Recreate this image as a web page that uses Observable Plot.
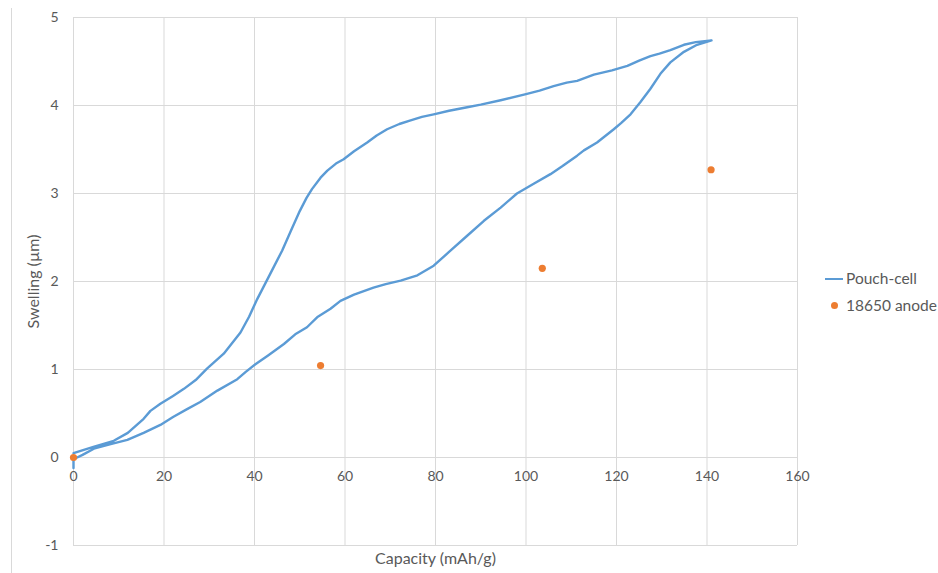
<!DOCTYPE html>
<html>
<head>
<meta charset="utf-8">
<script src="https://cdn.jsdelivr.net/npm/d3@7"></script>
<script src="https://cdn.jsdelivr.net/npm/@observablehq/plot@0.6"></script>
<style>
  body { margin: 0; background: #fff; font-family: Lato, "Open Sans", sans-serif; }
  #wrap { position: relative; width: 938px; height: 573px; overflow: hidden; }
  #border { position: absolute; left: 11px; top: 8px; width: 0; height: 565px; border-left: 1px solid #d9d9d9; }
  #legend { position: absolute; left: 825px; top: 265px; font-size: 15.5px; color: #595959; line-height: 27px; }
  #legend .row { display: flex; align-items: center; }
  #legend .line { width: 18px; height: 0; border-top: 2px solid #5B9BD5; margin-right: 3px; }
  #legend .dot { width: 7px; height: 7px; border-radius: 50%; background: #ED7D31; margin: 0 8px 0 6px; }
</style>
</head>
<body>
<div id="wrap">
  <div id="border"></div>
  <div id="chart"></div>
  <div id="legend">
    <div class="row"><span class="line"></span><span>Pouch-cell</span></div>
    <div class="row"><span class="dot"></span><span>18650 anode</span></div>
  </div>
</div>
<script>
// Pouch-cell: first branch (upper)
const upperCapacity = [0, 4.4, 8.9, 12, 15.5, 17, 19.2, 22, 24.4, 27, 29.5, 33.2, 36.9, 38.8, 40.6, 43.5, 46.1, 48, 50, 51.5, 52.7, 54.6, 56.1, 58, 59.7, 62, 64.9, 67, 69.3, 72, 74.5, 77, 79.6, 83, 87, 90, 94.4, 100, 103, 106.1, 109, 111.3, 115, 119, 122.4, 125, 127.5, 129.5, 131.9, 134.9, 137.5, 141];
const upperSwelling = [0.05, 0.12, 0.19, 0.28, 0.44, 0.53, 0.61, 0.7, 0.78, 0.88, 1.01, 1.18, 1.42, 1.6, 1.8, 2.09, 2.35, 2.57, 2.8, 2.95, 3.05, 3.18, 3.26, 3.34, 3.39, 3.48, 3.58, 3.66, 3.73, 3.79, 3.83, 3.87, 3.9, 3.94, 3.98, 4.01, 4.06, 4.13, 4.17, 4.22, 4.26, 4.28, 4.35, 4.4, 4.45, 4.51, 4.56, 4.59, 4.63, 4.69, 4.72, 4.74];
// Pouch-cell: return branch (lower)
const lowerCapacity = [141, 137.8, 134.9, 131.9, 129.7, 127.5, 125.3, 123.1, 121, 119.4, 115.7, 112.8, 111.3, 108, 105.4, 101.7, 98, 94.4, 90.7, 87, 83.3, 79.6, 76, 72.3, 69, 66.3, 62, 59, 56.8, 54, 51.6, 49, 46.5, 43, 40.2, 38, 36.2, 31.8, 28, 25.1, 22, 19.2, 15.5, 11.9, 8, 4.5, 2, 0, 0];
const lowerSwelling = [4.74, 4.69, 4.61, 4.49, 4.36, 4.19, 4.04, 3.9, 3.8, 3.73, 3.58, 3.49, 3.43, 3.31, 3.22, 3.11, 3.0, 2.84, 2.69, 2.52, 2.35, 2.18, 2.07, 2.01, 1.97, 1.93, 1.85, 1.78, 1.69, 1.6, 1.48, 1.4, 1.29, 1.16, 1.06, 0.97, 0.89, 0.76, 0.63, 0.55, 0.46, 0.37, 0.28, 0.2, 0.15, 0.1, 0.03, -0.02, -0.12];
// 18650 anode points
const anodeCapacity = [0, 54.6, 103.6, 140.9];
const anodeSwelling = [0, 1.045, 2.15, 3.27];
// ticks
const xTicks = [0, 20, 40, 60, 80, 100, 120, 140, 160];
const yTicks = [-1, 0, 1, 2, 3, 4, 5];

const pouch = [
  ...upperCapacity.map((c, i) => ({capacity: c, swelling: upperSwelling[i]})),
  ...lowerCapacity.map((c, i) => ({capacity: c, swelling: lowerSwelling[i]}))
];
const anode = anodeCapacity.map((c, i) => ({capacity: c, swelling: anodeSwelling[i]}));

const grid = "#d9d9d9";
const textColor = "#595959";

const chart = Plot.plot({
  width: 938,
  height: 573,
  marginLeft: 73,
  marginRight: 141,
  marginTop: 17,
  marginBottom: 28,
  style: {fontFamily: "Lato, 'Open Sans', sans-serif", fontSize: "14px", color: textColor, background: "transparent"},
  x: {domain: [0, 160], axis: null},
  y: {domain: [-1, 5], axis: null},
  marks: [
    Plot.ruleX(xTicks, {stroke: grid, strokeWidth: 1, strokeOpacity: 1}),
    Plot.ruleY(yTicks, {stroke: grid, strokeWidth: 1, strokeOpacity: 1}),
    Plot.text(yTicks, {x: 0, y: d => d, dx: -15, textAnchor: "end", text: d => String(d), fill: textColor, fontSize: 14}),
    Plot.text(xTicks, {x: d => d, y: 0, dy: 19, text: d => String(d), fill: textColor, fontSize: 14}),
    Plot.text(["Capacity (mAh/g)"], {frameAnchor: "bottom", dy: 18, textAnchor: "middle", text: d => d, fill: textColor, fontSize: 16}),
    Plot.text(["Swelling (µm)"], {frameAnchor: "left", dx: -40, rotate: -90, textAnchor: "middle", text: d => d, fill: textColor, fontSize: 16}),
    Plot.line(pouch, {x: "capacity", y: "swelling", stroke: "#5B9BD5", strokeWidth: 2.4, curve: "linear", strokeLinejoin: "round"}),
    Plot.dot(anode, {x: "capacity", y: "swelling", r: 3.6, fill: "#ED7D31", stroke: "none"})
  ]
});
document.getElementById("chart").appendChild(chart);
</script>
</body>
</html>
